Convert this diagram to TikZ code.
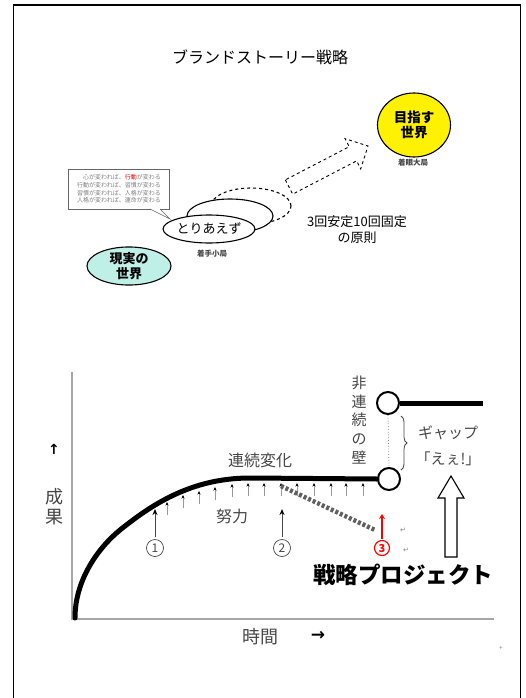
\documentclass[tikz,border=0pt]{standalone}
\usepackage{fontspec}
\setmainfont{Noto Sans CJK JP}
\newfontfamily\djv{DejaVu Sans}
\usetikzlibrary{arrows.meta,decorations.pathreplacing,shapes.geometric}
\definecolor{yel}{RGB}{255,242,0}
\definecolor{cyanfill}{RGB}{190,240,232}
\definecolor{txtgray}{RGB}{70,70,70}
\begin{document}
\begin{tikzpicture}[x=1pt,y=-1pt,
  txt/.style={inner sep=0pt, align=center},
  ell/.style={ellipse, draw, line width=1.1pt, fill=white, inner sep=0pt},
  effort/.style={draw=gray!80, line width=0.7pt, -{Stealth[length=3.5pt,width=3pt,color=black,fill=black]}},
  bigarrow/.style={draw=txtgray, line width=1pt, -{Stealth[length=6pt,width=5pt,color=black,fill=black]}},
  circnum/.style={circle, draw=txtgray, line width=0.7pt, minimum size=17pt, inner sep=0pt, font=\fontsize{12}{12}\selectfont, text=txtgray},
  ring/.style={circle, draw, line width=2pt, fill=white, minimum size=22pt, inner sep=0pt},
  fatline/.style={line width=5pt},
]
\useasboundingbox (0,0) rectangle (525,698);
% frame
\draw[line width=1.5pt] (13.5,698) -- (13.5,5) -- (520.5,5) -- (520.5,698);

% ---------- upper diagram ----------
\node[txt, font=\fontsize{16}{16}\selectfont] (title) at (260,57) {ブランドストーリー戦略};

% goal circle
\node[ellipse, draw, line width=1.1pt, fill=yel, minimum width=73pt, minimum height=64pt, inner sep=0pt,
      font=\bfseries\fontsize{13.5}{15.5}\selectfont, align=center] (goal) at (414,125) {目指す\\世界};
\node[txt, font=\bfseries\fontsize{7.5}{7.5}\selectfont, text=txtgray] (goalcap) at (413,163) {着眼大局};

% dashed block arrow
\draw[dashed, line width=0.9pt, fill=white] (285.3,179.9) -- (292.7,194.1) -- (356.6,160.9) -- (360.7,168.9)
  -- (368,146) -- (345.1,138.7) -- (349.2,146.7) -- cycle;

% stacked ellipses
\node[ell, dashed, minimum width=80pt, minimum height=36pt] (e3) at (251,206) {};
\node[ell, minimum width=86pt, minimum height=34pt] (e2) at (230,216) {};
\node[ell, minimum width=84pt, minimum height=28pt, font=\fontsize{13}{13}\selectfont] (e1) at (209,229) {とりあえず};
\node[txt, font=\bfseries\fontsize{7.5}{7.5}\selectfont, text=txtgray] (e1cap) at (212,254) {着手小局};

% callout box
\node[draw=gray!80!black, line width=0.6pt, fill=white, minimum width=101pt, minimum height=40pt, inner sep=0pt,
      align=right, font=\fontsize{6}{7.6}\selectfont, text=gray] (cb) at (119,189)
  {心が変われば、{\color{red}行動}が変わる\\行動が変われば、習慣が変わる\\習慣が変われば、人格が変わる\\人格が変われば、運命が変わる};
\coordinate (ptr) at (170,219);
\fill[white] (150.5,208.4) rectangle (159.5,209.8);
\draw[gray!80!black, line width=0.6pt] (150,209) -- (ptr) -- (160,209);

% reality ellipse
\node[ellipse, draw, line width=1.1pt, fill=cyanfill, minimum width=84pt, minimum height=36pt, inner sep=0pt,
      font=\bfseries\fontsize{13}{14.5}\selectfont, align=center] (real) at (129,266) {現実の\\世界};

\node[txt, font=\fontsize{13}{16}\selectfont] (rule) at (357,230) {3回安定10回固定\\の原則};

% ---------- lower chart ----------
\coordinate (o) at (72,619);
\coordinate (ytop) at (72,372);
\coordinate (xend) at (494,619);
\draw[gray!70, line width=1.3pt] (ytop) -- (o) -- (xend);

\node[ring] (lc) at (389,479) {};
\node[ring] (uc) at (388,403) {};
\coordinate (ue) at (483,403);

% continuous curve
\draw[fatline, line cap=round] (75,618) .. controls (75,580) and (98,548) .. (120,530)
   .. controls (150,506) and (190,478) .. (250,478) -- (lc.west);
\draw[fatline] (uc.east) -- (ue);
\draw[gray, dotted, line width=0.8pt] (uc.south) -- (lc.north);

% effort arrows
\foreach \x/\t in {167/502,183/495,199/491,215/487,232/484,248/483,264/483,281/483,297/483,314/483,331/483,346/483,363/483}
  {\draw[effort] (\x,\t+13) -- (\x,\t);}

% dashed strategy line
\coordinate (ds) at (281,486);
\coordinate (de) at (375,530);
\draw[gray!75!black, line width=4.5pt, dash pattern=on 3pt off 2pt] (ds) -- (de);

% numbered arrows
\node[circnum] (n1) at (155,548) {1};
\node[circnum] (n2) at (282,548) {2};
\draw[bigarrow] (n1.north) ++(0,-2) -- (155,509);
\draw[bigarrow] (n2.north) ++(0,-2) -- (282,509);

\node[txt, font=\fontsize{16}{16}\selectfont, text=txtgray] (doryoku) at (232,516) {努力};
\node[txt, font=\fontsize{16}{16}\selectfont, text=txtgray] (renzoku) at (260,460) {連続変化};
\node[txt, font=\fontsize{15}{18.8}\selectfont, text=txtgray] (wall) at (359,420) {非\\連\\続\\の\\壁};

% brace
\draw[txtgray, line width=0.8pt, decorate, decoration={brace, amplitude=6pt}] (401,416) -- (401,470);
\node[txt, font=\fontsize{15}{26}\selectfont, text=txtgray] (gap) at (448,446) {ギャップ\\「えぇ!」};

% hollow up arrow
\draw[line width=1.1pt, fill=white] (445,557) -- (445,498) -- (438,498) -- (451,476) -- (464,498) -- (457,498) -- (457,557) -- cycle;

% red 3
\node[circle, draw=red, line width=1.2pt, minimum size=15pt, inner sep=0pt, text=red,
      font=\bfseries\fontsize{11}{11}\selectfont] (n3) at (382,548) {3};
\draw[red, line width=1.1pt, -{Stealth[length=5pt,width=6pt]}] (n3.north) ++(0,-1) -- (382,514);
\node[txt, font=\djv\fontsize{7}{7}\selectfont, text=gray] (ret1) at (403,530) {↵};
\node[txt, font=\djv\fontsize{7}{7}\selectfont, text=gray] (ret2) at (406,550) {↵};

\node[txt, font=\bfseries\fontsize{22.5}{22.5}\selectfont] (proj) at (403,575) {戦略プロジェクト};

% axis labels
\node[txt, font=\fontsize{18}{18}\selectfont, text=txtgray] (time) at (260,637) {時間};
\node[txt, font=\djv\bfseries\fontsize{17}{17}\selectfont, text=black] (tarr) at (318,636) {→};
\node[txt, font=\djv\bfseries\fontsize{14}{14}\selectfont, text=black] (yarr) at (54,449) {↑};
\node[txt, font=\fontsize{18}{20}\selectfont, text=txtgray] (seika) at (54,507) {成\\果};
\node[txt, font=\djv\fontsize{5}{5}\selectfont, text=gray] (plus) at (501,648) {+};
\end{tikzpicture}
\end{document}
